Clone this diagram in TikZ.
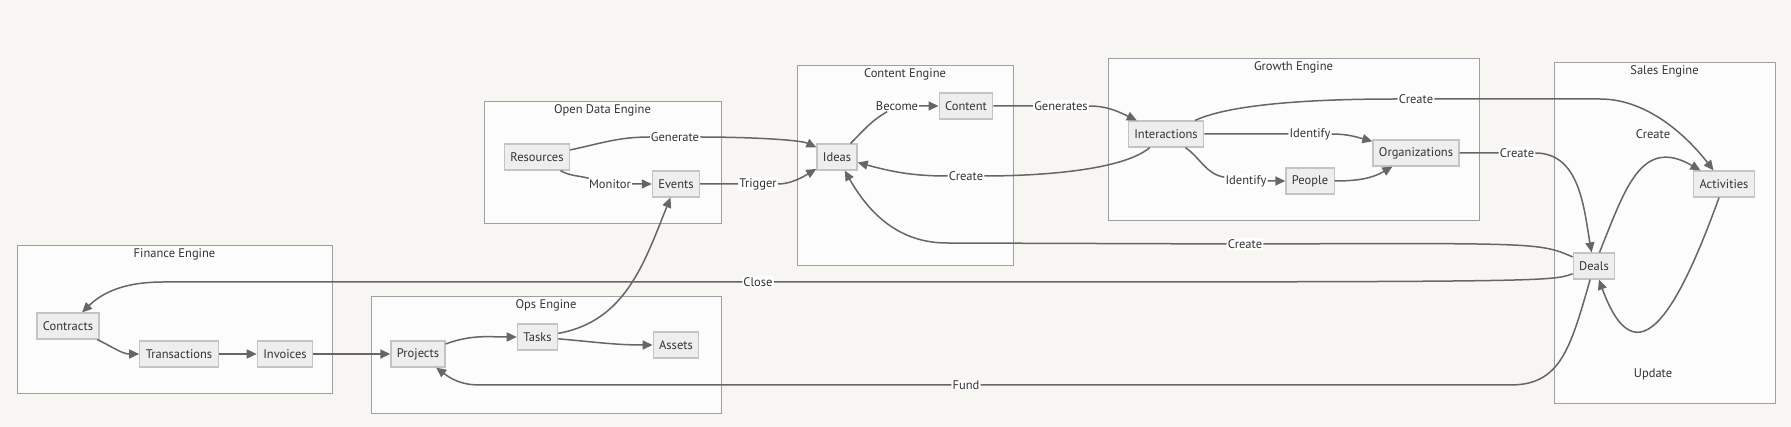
\documentclass[tikz,border=0pt]{standalone}
\usepackage{fontspec}
\setmainfont{PT Sans}
\usepackage{tikz}
\usetikzlibrary{shapes,arrows.meta,positioning}

\definecolor{bgc}{HTML}{F7F6F2}
\definecolor{clusterfill}{HTML}{FCFCFC}
\definecolor{clusterline}{HTML}{9F9F9F}
\definecolor{boxfill}{HTML}{EEEEEE}
\definecolor{boxline}{HTML}{C4C4C4}
\definecolor{edgec}{HTML}{666666}
\definecolor{textc}{HTML}{333333}

\begin{document}
\begin{tikzpicture}[
    x=1pt, y=1pt,
    font=\fontsize{12.5}{14}\selectfont, text=textc,
    box/.style={rectangle, draw=boxline, fill=boxfill, line width=1.2pt,
                minimum height=26pt, inner xsep=6pt},
    cluster/.style={rectangle, draw=clusterline, fill=clusterfill, line width=1pt},
    title/.style={inner sep=1pt},
    lbl/.style={fill=white, inner sep=1pt},
    arrow/.style={-{Triangle[length=10pt,width=9pt]}, draw=edgec, line width=1.5pt}
]
    \fill[bgc] (0,0) rectangle (1791,-427);
    \useasboundingbox (0,0) rectangle (1791,-427);

    % Finance Engine
    \node[cluster, minimum width=315, minimum height=148] (finance) at (174.5,-320) {};
    \node[title, below=2pt of finance.north] (financetitle) {Finance Engine};
    \node[box] (contracts) at (68,-326) {Contracts};
    \node[box] (transactions) at (179,-354) {Transactions};
    \node[box] (invoices) at (285,-354) {Invoices};

    % Ops Engine
    \node[cluster, minimum width=350, minimum height=116] (ops) at (546,-355) {};
    \node[title, below=2pt of ops.north] (opstitle) {Ops Engine};
    \node[box] (projects) at (418,-354) {Projects};
    \node[box] (tasks) at (537.5,-337) {Tasks};
    \node[box] (assets) at (676,-345) {Assets};

    % Open Data Engine
    \node[cluster, minimum width=237, minimum height=122] (opendata) at (602.5,-163) {};
    \node[title, below=2pt of opendata.north] (opendatatitle) {Open Data Engine};
    \node[box] (resources) at (537,-157) {Resources};
    \node[box] (events) at (676,-184) {Events};

    % Content Engine
    \node[cluster, minimum width=216, minimum height=200] (contentengine) at (905,-166) {};
    \node[title, below=2pt of contentengine.north] (contenttitle) {Content Engine};
    \node[box] (ideas) at (837,-157) {Ideas};
    \node[box] (content) at (966,-106) {Content};

    % Growth Engine
    \node[cluster, minimum width=371, minimum height=162] (growth) at (1293.5,-140) {};
    \node[title, below=2pt of growth.north] (growthtitle) {Growth Engine};
    \node[box] (interactions) at (1166,-134) {Interactions};
    \node[box] (organizations) at (1416,-153) {Organizations};
    \node[box] (people) at (1310,-181) {People};

    % Sales Engine
    \node[cluster, minimum width=221, minimum height=341] (sales) at (1664.5,-233.5) {};
    \node[title, below=2pt of sales.north] (salestitle) {Sales Engine};
    \node[box] (deals) at (1594,-266) {Deals};
    \node[box] (activities) at (1724,-184) {Activities};

    % edge labels
    \node[lbl] (lgenerate) at (675,-137) {Generate};
    \node[lbl] (lmonitor) at (610,-184) {Monitor};
    \node[lbl] (ltrigger) at (758,-184) {Trigger};
    \node[lbl] (lbecome) at (897,-106) {Become};
    \node[lbl] (lgenerates) at (1061,-106) {Generates};
    \node[lbl] (lcreatea) at (966,-176) {Create};
    \node[lbl] (lidentifya) at (1310,-134) {Identify};
    \node[lbl] (lidentifyb) at (1246,-181) {Identify};
    \node[lbl] (lcreateb) at (1416,-99) {Create};
    \node[lbl] (lcreatec) at (1517,-153) {Create};
    \node[lbl] (lcreated) at (1245,-244) {Create};
    \node[lbl] (lclose) at (758,-282) {Close};
    \node[lbl] (lfund) at (966,-385) {Fund};
    \node (lcreatee) at (1653,-134) {Create};
    \node (lupdate) at (1653,-374) {Update};

    % Finance Engine
    \draw[arrow] (contracts) to[out=-25,in=180] (transactions);
    \draw[arrow] (transactions) -- (invoices);
    \draw[arrow] (invoices) -- (projects);

    % Ops Engine
    \draw[arrow] (projects) to[out=20,in=180] (tasks);
    \draw[arrow] (tasks) to[out=-5,in=180] (assets);
    \draw[arrow] (tasks) to[out=10,in=-112] (events);

    % Open Data Engine
    \draw[arrow] (resources) to[out=12,in=180] (lgenerate) to[out=0,in=155,in looseness=0.4] (ideas);
    \draw[arrow] (resources) to[out=-30,in=165] (lmonitor) -- (events);
    \draw[arrow] (events) -- (ltrigger) to[out=0,in=-150,in looseness=0.5] (ideas);

    % Content Engine
    \draw[arrow] (ideas) to[out=45,in=-150] (lbecome) -- (content);
    \draw[arrow] (content) -- (lgenerates) to[out=0,in=155] (interactions);

    % Growth Engine
    \draw[arrow] (interactions) to[out=-140,in=0,looseness=0.6] (lcreatea) to[out=180,in=-15] (ideas);
    \draw[arrow] (interactions) -- (lidentifya) to[out=0,in=165] (organizations);
    \draw[arrow] (interactions) to[out=-35,in=170] (lidentifyb) -- (people);
    \draw[arrow] (people) to[out=0,in=-150] (organizations);
    \draw[arrow] (interactions) to[out=25,in=180,looseness=0.6] (lcreateb) -- (1600,-99)
        .. controls (1650,-99) and (1690,-140) .. (activities);
    \draw[arrow] (organizations) -- (lcreatec) to[out=0,in=100] (deals);

    % Sales Engine
    \draw[arrow] (deals) to[out=68,in=150,looseness=1.35] (activities);
    \draw[arrow] (activities) to[out=-110,in=-70,looseness=2.0] (deals);
    \draw[arrow] (deals) .. controls (1540,-243) .. (lcreated) -- (947,-243)
        .. controls (900,-243) and (870,-215) .. (ideas);
    \draw[arrow] (deals) .. controls (1550,-282) .. (lclose) -- (163,-282)
        .. controls (120,-282) and (100,-295) .. (contracts);
    \draw[arrow] (deals) .. controls (1570,-350) and (1560,-385) .. (1510,-385) -- (lfund)
        -- (480,-385) .. controls (460,-385) and (450,-378) .. (projects);
\end{tikzpicture}
\end{document}
